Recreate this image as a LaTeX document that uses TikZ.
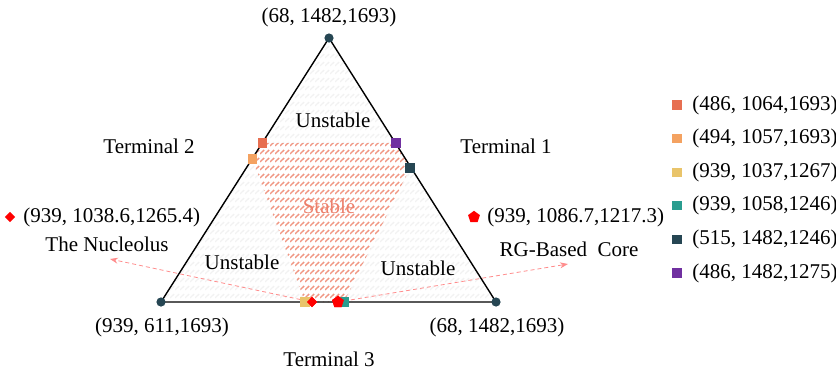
\documentclass[tikz,border=0pt]{standalone}
\usepackage{fontspec}
\setmainfont{Liberation Serif}
\usetikzlibrary{shapes.geometric,arrows.meta,patterns}

\definecolor{cOne}{HTML}{E76F51}
\definecolor{cTwo}{HTML}{F4A261}
\definecolor{cThree}{HTML}{E9C46A}
\definecolor{cFour}{HTML}{2A9D8F}
\definecolor{cFive}{HTML}{264653}
\definecolor{cSix}{HTML}{7030A0}
\definecolor{stablecol}{RGB}{242,150,130}
\definecolor{stabletext}{RGB}{236,128,108}

% short slanted strokes in rows
\pgfdeclarepatternformonly{slashrows}{\pgfpoint{0pt}{0pt}}{\pgfpoint{2.5pt}{4pt}}{\pgfpoint{2.5pt}{4pt}}{%
  \pgfsetlinewidth{0.75pt}%
  \pgfpathmoveto{\pgfpoint{0pt}{0.6pt}}%
  \pgfpathlineto{\pgfpoint{2.5pt}{2.8pt}}%
  \pgfusepath{stroke}}

\begin{document}
\begin{tikzpicture}[x=0.5pt,y=-0.5pt,
    every node/.style={font=\fontsize{10.5}{12}\selectfont,inner sep=0pt},
    vertexdot/.style={circle,fill=cFive,minimum size=4.6pt},
    marksq/.style={rectangle,minimum size=4.6pt},
    nucdiamond/.style={diamond,fill=red,minimum size=5.4pt},
    corepent/.style={regular polygon,regular polygon sides=5,fill=red,minimum size=6.2pt},
    solarrow/.style={dashed,dash pattern=on 2pt off 1.5pt,red!45,line width=0.4pt,-{Stealth[length=4pt,width=3pt]}}]
    \useasboundingbox (0,0) rectangle (836,370);

    \coordinate (t) at (329,38);
    \coordinate (l) at (161,302);
    \coordinate (r) at (496,302);

    % background and stable region
    \fill[pattern=slashrows,pattern color=black!5] (t) -- (l) -- (r) -- cycle;
    \coordinate (p1) at (262.5,143);
    \coordinate (p2) at (396,143);
    \coordinate (p3) at (410,168);
    \coordinate (p4) at (344,302);
    \coordinate (p5) at (305,302);
    \coordinate (p6) at (252.5,159);
    \fill[pattern=slashrows,pattern color=stablecol] (p1) -- (p2) -- (p3) -- (p4) -- (p5) -- (p6) -- cycle;

    \draw[line width=0.7pt] (t) -- (l) -- (r) -- cycle;

    \node[vertexdot] (tdot) at (t) {};
    \node[vertexdot] (ldot) at (l) {};
    \node[vertexdot] (rdot) at (r) {};

    % solutions
    \node[nucdiamond] (nuc) at (312,302) {};
    \node[corepent] (core) at (338,302) {};
    \coordinate (nucend) at (110,259);
    \coordinate (coreend) at (568,264);
    \draw[solarrow] (nuc) -- (nucend);
    \draw[solarrow] (core) -- (coreend);

    \node[marksq,fill=cOne] (m1) at (p1) {};
    \node[marksq,fill=cTwo] (m2) at (p6) {};
    \node[marksq,fill=cThree] (m3) at (p5) {};
    \node[marksq,fill=cFour] (m4) at (p4) {};
    \node[marksq,fill=cFive] (m5) at (p3) {};
    \node[marksq,fill=cSix] (m6) at (p2) {};
    \node[nucdiamond] (nuctop) at (312,302) {};
    \node[corepent] (coretop) at (338,302) {};

    % labels
    \node (ttext) at (329,17) {(68, 1482,1693)};
    \node (ltext) at (162,327) {(939, 611,1693)};
    \node (rtext) at (497,327) {(68, 1482,1693)};
    \node (term1) at (506,146) {Terminal 1};
    \node (term2) at (149,146) {Terminal 2};
    \node (term3) at (329,359) {Terminal 3};
    \node (un1) at (333,120) {Unstable};
    \node (un2) at (242,262) {Unstable};
    \node (un3) at (418,268) {Unstable};
    \node[text=stabletext] (st) at (329,206) {Stable};

    \node[nucdiamond] (nucmark) at (10,217) {};
    \node[anchor=west] (nucval) at (23,217) {(939, 1038.6,1265.4)};
    \node (nucname) at (107,244) {The Nucleolus};
    \node[corepent] (coremark) at (474,217) {};
    \node[anchor=west] (coreval) at (487,217) {(939, 1086.7,1217.3)};
    \node (corename) at (569,249) {RG-Based~ Core};

    % legend
    \foreach \col/\lab [count=\i] in {cOne/{(486, 1064,1693)},cTwo/{(494, 1057,1693)},
        cThree/{(939, 1037,1267)},cFour/{(939, 1058,1246)},cFive/{(515, 1482,1246)},
        cSix/{(486, 1482,1275)}} {
      \node[marksq,fill=\col] (leg\i) at (677,{105+33.6*(\i-1)}) {};
      \node[anchor=west] (legtext\i) at (692,{105+33.6*(\i-1)}) {\lab};
    }
\end{tikzpicture}
\end{document}
